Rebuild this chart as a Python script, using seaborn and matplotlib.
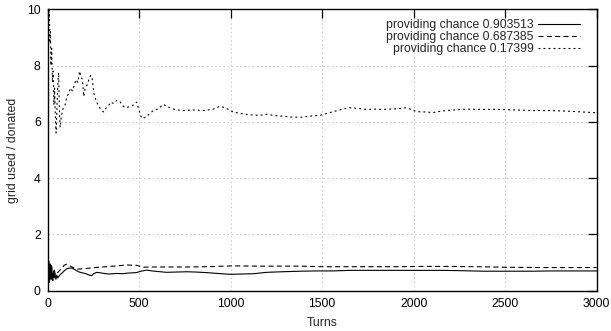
import matplotlib
matplotlib.use("Agg")
import matplotlib.pyplot as plt
import seaborn as sns
import pandas as pd

# ---- data ----
turns_a = [0, 2, 4, 6, 8, 10, 13, 16, 19, 22, 25, 28, 32, 36, 40, 45, 50, 55, 60, 70, 78, 90,
           105, 120, 133, 150, 169, 190, 210, 224, 240, 251, 268, 279, 300, 320, 340, 351, 380,
           410, 432, 460, 485, 510, 541, 570, 600, 650, 700, 760, 810, 869, 930, 995, 1060,
           1123, 1197, 1280, 1379, 1470, 1560, 1652, 1750, 1850, 1925, 2050, 2150, 2250, 2380,
           2470, 2560, 2650, 2750, 2850, 2950, 3000]
vals_a = [0.0, 1.27, 0.9, 1.05, 0.55, 0.3, 0.95, 0.75, 0.4, 0.85, 0.5, 0.35, 0.7, 0.45, 0.6,
          0.4, 0.55, 0.45, 0.5, 0.58, 0.62, 0.7, 0.78, 0.8, 0.8, 0.74, 0.67, 0.63, 0.6, 0.56,
          0.53, 0.6, 0.65, 0.64, 0.62, 0.6, 0.59, 0.6, 0.61, 0.6, 0.62, 0.63, 0.64, 0.69, 0.73,
          0.7, 0.68, 0.65, 0.66, 0.67, 0.66, 0.64, 0.61, 0.58, 0.59, 0.6, 0.65, 0.67, 0.69, 0.7,
          0.7, 0.72, 0.72, 0.72, 0.72, 0.72, 0.72, 0.71, 0.69, 0.69, 0.69, 0.69, 0.7, 0.7, 0.7,
          0.7]

turns_b = [0, 3, 6, 10, 14, 18, 24, 30, 36, 42, 50, 60, 70, 80, 90, 104, 115, 130, 145, 158,
           180, 200, 231, 260, 300, 340, 380, 432, 485, 522, 560, 650, 760, 869, 1014, 1150,
           1300, 1380, 1500, 1700, 1925, 2050, 2200, 2350, 2500, 2700, 2850, 3000]
vals_b = [0.9, 0.7, 1.0, 0.8, 0.6, 0.9, 0.7, 0.55, 0.75, 0.55, 0.6, 0.68, 0.75, 0.82, 0.9,
          0.94, 0.9, 0.85, 0.8, 0.76, 0.77, 0.78, 0.8, 0.82, 0.84, 0.86, 0.88, 0.91, 0.9, 0.83,
          0.84, 0.84, 0.84, 0.85, 0.88, 0.87, 0.87, 0.87, 0.85, 0.85, 0.85, 0.86, 0.86, 0.85,
          0.83, 0.82, 0.82, 0.82]

turns_c = [0, 2, 5, 8, 12, 15, 18, 22, 26, 30, 34, 38, 42, 46, 50, 55, 60, 64, 68, 75, 85, 95,
           105, 115, 125, 135, 145, 155, 165, 175, 182, 190, 197, 205, 215, 225, 235, 242, 253,
           265, 275, 285, 295, 306, 320, 333, 345, 360, 377, 395, 413, 430, 450, 470, 486, 500,
           514, 530, 541, 560, 577, 600, 632, 650, 668, 705, 750, 796, 850, 905, 941, 970, 1014,
           1051, 1100, 1160, 1197, 1240, 1287, 1330, 1379, 1433, 1488, 1560, 1610, 1652, 1700,
           1743, 1790, 1834, 1900, 1962, 2016, 2060, 2106, 2150, 2198, 2240, 2289, 2380, 2471,
           2560, 2653, 2740, 2836, 2920, 3000]
vals_c = [1.0, 12.0, 9.5, 10.5, 8.8, 9.2, 8.0, 8.6, 7.4, 7.8, 6.6, 7.2, 6.2, 5.6, 6.3, 7.3,
          7.75, 6.5, 5.8, 6.2, 6.5, 6.6, 6.9, 7.0, 7.2, 7.1, 7.3, 7.5, 7.4, 7.8, 7.6, 7.5, 6.9,
          7.2, 7.3, 7.5, 7.65, 7.6, 7.0, 6.75, 6.6, 6.5, 6.4, 6.35, 6.5, 6.58, 6.7, 6.65, 6.76,
          6.72, 6.55, 6.5, 6.55, 6.6, 6.7, 6.4, 6.12, 6.15, 6.2, 6.3, 6.4, 6.45, 6.62, 6.55, 6.5,
          6.42, 6.4, 6.42, 6.4, 6.45, 6.55, 6.5, 6.35, 6.3, 6.25, 6.23, 6.27, 6.22, 6.2, 6.17,
          6.16, 6.2, 6.23, 6.36, 6.45, 6.5, 6.47, 6.44, 6.45, 6.44, 6.46, 6.5, 6.36, 6.35, 6.33,
          6.38, 6.41, 6.43, 6.45, 6.44, 6.44, 6.42, 6.4, 6.4, 6.38, 6.35, 6.32]

labels = ["providing chance 0.903513", "providing chance 0.687385", "providing chance 0.17399"]
x_ticks = [0, 500, 1000, 1500, 2000, 2500, 3000]
y_ticks = [0, 2, 4, 6, 8, 10]

# ---- style ----
sns.set_theme(style="white")
plt.rcParams['font.family'] = ['Liberation Sans', 'DejaVu Sans']
plt.rcParams['lines.scale_dashes'] = False

FS = 8.8
fig = plt.figure(figsize=(6.11, 3.31), dpi=100)
ax = fig.add_axes([0.078, 0.122, 0.8986, 0.850])

series = [(turns_a, vals_a, '-'), (turns_b, vals_b, (0, (3.6, 2.4))), (turns_c, vals_c, (0, (1.4, 2.2)))]
for (t, v, ls), lab in zip(series, labels):
    df = pd.DataFrame({"Turns": t, "value": v})
    sns.lineplot(data=df, x="Turns", y="value", ax=ax, color="black", linewidth=0.8,
                 linestyle=ls, label=lab, sort=False)

ax.set_xlim(0, 3000)
ax.set_ylim(0, 10)
ax.set_xticks(x_ticks)
ax.set_yticks(y_ticks)
ax.tick_params(direction='in', length=6.5, width=0.9, top=True, right=True,
               labelsize=FS, colors='black', pad=5)
for s in ax.spines.values():
    s.set_color('black')
    s.set_linewidth(1.0)
    s.set_visible(True)
ax.grid(True, color='#bbbbbb', linestyle=(0, (1, 2)), linewidth=0.6)
ax.set_axisbelow(True)

ax.set_xlabel("Turns", fontsize=FS, labelpad=5)
ax.set_ylabel("grid used / donated", fontsize=FS, labelpad=6)

leg = ax.legend(loc='upper right', frameon=False, fontsize=FS, markerfirst=False,
                handlelength=3.4, handletextpad=0.4, labelspacing=0.0,
                borderaxespad=0.2, bbox_to_anchor=(0.983, 0.99))

fig.savefig("out.png", dpi=100)
